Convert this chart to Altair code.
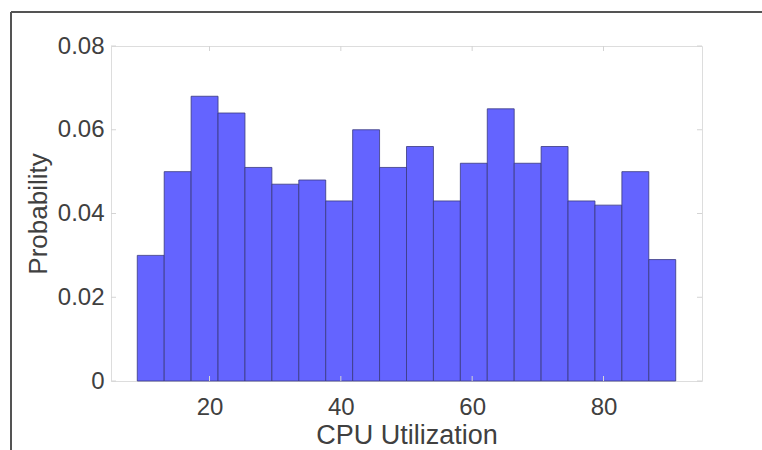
import altair as alt
import pandas as pd

# Histogram of CPU utilization (normalized to probability), 20 bins from 9 to 91
bin_start = 9.0
bin_width = 4.1
probabilities = [0.030, 0.050, 0.068, 0.064, 0.051, 0.047, 0.048, 0.043, 0.060, 0.051,
                 0.056, 0.043, 0.052, 0.065, 0.052, 0.056, 0.043, 0.042, 0.050, 0.029]
x_ticks = [20, 40, 60, 80]
y_ticks = [0, 0.02, 0.04, 0.06, 0.08]

bins = pd.DataFrame({
    "lo": [bin_start + i * bin_width for i in range(len(probabilities))],
    "hi": [bin_start + (i + 1) * bin_width for i in range(len(probabilities))],
    "p": probabilities,
})
xt = pd.DataFrame({"v": x_ticks})
yt = pd.DataFrame({"v": y_ticks})

W, H = 591, 335
FONT = "Liberation Sans"
TXT = "#404040"
BOX = "#d4d4d4"

xs = alt.Scale(domain=[5, 95], nice=False, zero=False)
ys = alt.Scale(domain=[0, 0.08], nice=False)

x_axis = alt.Axis(values=x_ticks, ticks=False, tickSize=0, domain=False, grid=False,
                  labelFontSize=24, labelColor=TXT, labelFont=FONT, labelPadding=14,
                  title="CPU Utilization", titleFontSize=27, titleFont=FONT,
                  titleColor=TXT, titleFontWeight="normal", titleBaseline="alphabetic",
                  titleY=62, labelFlush=False)
y_axis = alt.Axis(values=y_ticks, ticks=False, tickSize=0, domain=False, grid=False,
                  labelFontSize=24, labelColor=TXT, labelFont=FONT, labelPadding=7,
                  labelExpr="datum.value == 0 ? '0' : format(datum.value, '.2f')",
                  title="Probability", titleFontSize=26, titleFont=FONT,
                  titleColor=TXT, titleFontWeight="normal", titleBaseline="alphabetic",
                  titleAngle=270, titleX=-65, titleY=H / 2, labelFlush=False)

bars = alt.Chart(bins).mark_rect(fill="#6464ff", stroke="#3a3a80", strokeWidth=1,
                                 strokeOpacity=0.8).encode(
    x=alt.X("lo:Q", scale=xs, axis=x_axis),
    x2="hi:Q",
    y=alt.Y("p:Q", scale=ys, axis=y_axis),
    y2=alt.datum(0),
)

# inward tick marks on all four sides of the box
tick_len = 5
xb = alt.Chart(xt).mark_rule(color=BOX, strokeWidth=1).encode(
    x=alt.X("v:Q", scale=xs), y=alt.value(H), y2=alt.value(H - tick_len))
xtop = alt.Chart(xt).mark_rule(color=BOX, strokeWidth=1).encode(
    x=alt.X("v:Q", scale=xs), y=alt.value(0), y2=alt.value(tick_len))
yl = alt.Chart(yt).mark_rule(color=BOX, strokeWidth=1).encode(
    y=alt.Y("v:Q", scale=ys), x=alt.value(0), x2=alt.value(tick_len))
yr = alt.Chart(yt).mark_rule(color=BOX, strokeWidth=1).encode(
    y=alt.Y("v:Q", scale=ys), x=alt.value(W), x2=alt.value(W - tick_len))

# outer figure frame (top and left edges)
frame_top = alt.Chart(bins).mark_rule(color="#555555", strokeWidth=1.5).encode(
    x=alt.value(-100), x2=alt.value(660), y=alt.value(-34))
frame_left = alt.Chart(bins).mark_rule(color="#555555", strokeWidth=1.5).encode(
    x=alt.value(-100), y=alt.value(-34), y2=alt.value(420))

chart = alt.layer(bars, xb, xtop, yl, yr, frame_top, frame_left).properties(
    width=W, height=H,
    autosize=alt.AutoSizeParams(type="none"),
    padding={"left": 111, "top": 46, "right": 60, "bottom": 69},
).configure_view(stroke=BOX, strokeWidth=1.5).configure(background="white")

chart.save("out.html", embed_options={"renderer": "svg", "actions": False})
